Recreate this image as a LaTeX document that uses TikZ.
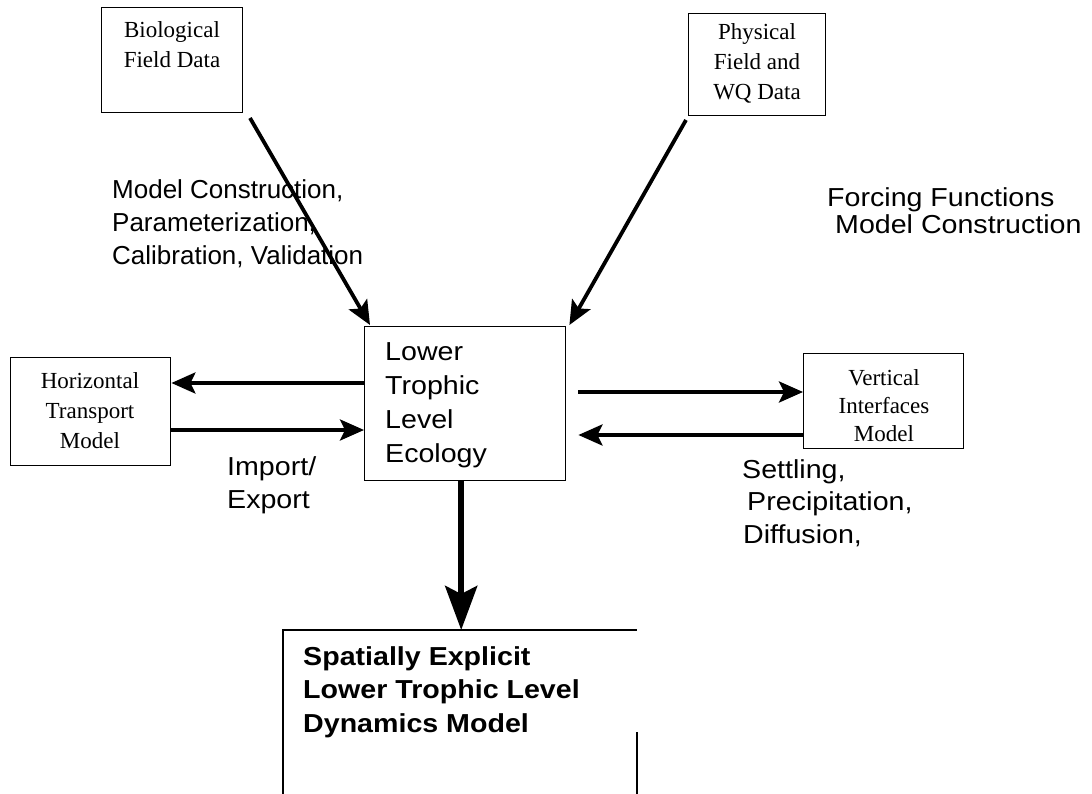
\documentclass[tikz,border=0pt]{standalone}
\usepackage{fontspec}
\setmainfont{Liberation Sans}
\newfontfamily\wsans{Liberation Sans}[FakeStretch=1.1]
\newfontfamily\boxserif{Liberation Serif}
\usetikzlibrary{arrows.meta}
\tikzset{
  x=1pt, y=-1pt,
  databox/.style={draw, line width=1.4pt, inner sep=0pt, minimum width=#1},
  boxtxt/.style={font=\boxserif\fontsize{23}{30}\selectfont, align=center, inner sep=0pt, anchor=north},
  lbl/.style={font=\fontsize{26}{33}\selectfont, align=left, inner sep=0pt, anchor=north west},
  wlbl/.style={font=\wsans\fontsize{26}{33}\selectfont, align=left, inner sep=0pt, anchor=north west},
  arr/.style={line width=3.8pt, -{Stealth[length=24pt,width=21pt,inset=5pt]}},
  bigarr/.style={line width=6pt, -{Stealth[length=44pt,width=32pt,inset=8pt]}},
}
\begin{document}
\begin{tikzpicture}
\useasboundingbox[fill=white] (0,0) rectangle (1092,794);

% data boxes
\node[databox=141pt, minimum height=105pt, anchor=north west] (bio) at (101,7) {};
\node[boxtxt] (biot) at (172,21) {Biological\\Field Data};

\node[databox=137pt, minimum height=102pt, anchor=north west] (phys) at (688,13) {};
\node[boxtxt] (physt) at (757,23) {Physical\\Field and\\WQ Data};

\node[databox=160pt, minimum height=108pt, anchor=north west] (htm) at (10,357) {};
\node[boxtxt] (htmt) at (90,372) {Horizontal\\Transport\\Model};

\node[databox=160pt, minimum height=95pt, anchor=north west] (vim) at (803,353) {};
\node[boxtxt, font=\boxserif\fontsize{23}{28}\selectfont] (vimt) at (884,369) {Vertical\\Interfaces\\Model};

% central box
\node[databox=201pt, minimum height=154pt, anchor=north west] (ltl) at (364,326) {};
\node[wlbl, font=\wsans\fontsize{26}{34}\selectfont] (ltlt) at (385,342) {Lower\\Trophic\\Level\\Ecology};

% bottom box (open at the bottom)
\coordinate (bb1) at (283,794);
\coordinate (bb2) at (283,630);
\coordinate (bb3) at (637,630);
\coordinate (bb4) at (637,732);
\coordinate (bb5) at (637,794);
\draw[line width=1.4pt] (bb1) -- (bb2) -- (bb3);
\draw[line width=1.4pt] (bb4) -- (bb5);
\node[wlbl, font=\wsans\bfseries\fontsize{26}{33.5}\selectfont] (sel) at (303,646) {Spatially Explicit\\Lower Trophic Level\\Dynamics Model};

% labels
\node[lbl] (mc) at (112,179) {Model Construction,\\Parameterization,\\Calibration, Validation};
\node[wlbl, font=\wsans\fontsize{26}{27}\selectfont] (ff) at (827,187) {Forcing Functions\\\hspace*{8pt}Model Construction};
\node[wlbl] (ie) at (227,456) {Import/\\Export};
\node[wlbl, font=\wsans\fontsize{26}{32.5}\selectfont] (sp) at (742,459) {Settling,\\\hspace*{5pt}Precipitation,\\\hspace*{1pt}Diffusion,};

% connectors
\coordinate (biostart) at (250,118);
\coordinate (physstart) at (686,120);
\draw[arr] (biostart) -- ([xshift=6pt,yshift=1pt]ltl.north west);
\draw[arr] (physstart) -- ([xshift=3pt,yshift=1pt]ltl.north east);
\draw[arr] (ltl.west |- 0,383) -- (htm.east |- 0,383);
\draw[arr] (htm.east |- 0,430) -- (ltl.west |- 0,430);
\draw[arr] ([xshift=12pt]ltl.east |- 0,392) -- (vim.west |- 0,392);
\draw[arr] (vim.west |- 0,435) -- ([xshift=12pt]ltl.east |- 0,435);
\draw[bigarr] ([xshift=-4pt]ltl.south) -- ([xshift=-4pt]ltl.south |- bb3);
\end{tikzpicture}
\end{document}
